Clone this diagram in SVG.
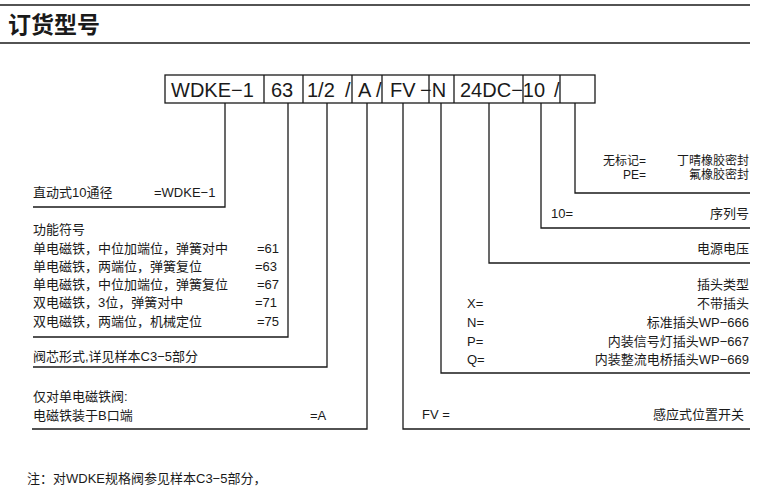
<svg xmlns="http://www.w3.org/2000/svg" width="768" height="496" viewBox="0 0 768 496">
<style>
text{font-family:"Liberation Sans","Noto Sans CJK SC",sans-serif;fill:#1a1a1a;font-size:13px}
.t{font-family:"Noto Sans CJK SC",sans-serif;font-size:23px;font-weight:700}
.b{font-size:20px}
.s{font-size:12px}
.r{text-anchor:end}
line,polyline,rect{stroke:#1a1a1a;stroke-width:1.3;fill:none}
</style>
<rect width="768" height="496" fill="#fff" style="stroke:none"/>
<g id="title">
<line x1="0" y1="5" x2="750" y2="5"/>
<line x1="0" y1="43" x2="750" y2="43"/>
<text class="t" x="8" y="33">订货型号</text>
</g>
<g id="code">
<rect x="165" y="75" width="430" height="28"/>
<line x1="264" y1="75" x2="264" y2="103"/>
<line x1="303" y1="75" x2="303" y2="103"/>
<line x1="352" y1="75" x2="352" y2="103"/>
<line x1="382" y1="75" x2="382" y2="103"/>
<line x1="429" y1="75" x2="429" y2="103"/>
<line x1="454" y1="75" x2="454" y2="103"/>
<line x1="523" y1="75" x2="523" y2="103"/>
<line x1="560" y1="75" x2="560" y2="103"/>
<text class="b" x="171" y="97">WDKE−1</text>
<text class="b" x="271" y="97">63</text>
<text class="b" x="307" y="97">1/2</text>
<text class="b" x="345" y="97">/</text>
<text class="b" x="358" y="97">A</text>
<text class="b" x="376" y="97">/</text>
<text class="b" x="390" y="97">FV</text>
<text class="b" x="420" y="97">−N</text>
<text class="b" x="460" y="97">24DC−10</text>
<text class="b" x="554" y="97">/</text>
</g>
<g id="connectors">
<polyline points="225,103 225,207 33,207"/>
<polyline points="288,103 288,337 33,337"/>
<polyline points="327,103 327,367 33,367"/>
<polyline points="367,103 367,429 32,429"/>
<polyline points="403,103 403,429 750,429"/>
<polyline points="441,103 441,373 750,373"/>
<polyline points="489,103 489,263 750,263"/>
<polyline points="541,103 541,228 750,228"/>
<polyline points="575,103 575,193 750,193"/>
</g>
<g id="size">
<text x="33" y="197">直动式10通径</text>
<text x="154" y="197">=WDKE−1</text>
</g>
<g id="function">
<text x="33" y="234">功能符号</text>
<text x="33" y="252.5">单电磁铁，中位加端位，弹簧对中</text>
<text x="33" y="270.5">单电磁铁，两端位，弹簧复位</text>
<text x="33" y="289">单电磁铁，中位加端位，弹簧复位</text>
<text x="33" y="307">双电磁铁，3位，弹簧对中</text>
<text x="33" y="325.5">双电磁铁，两端位，机械定位</text>
<text class="r" x="279" y="252.5">=61</text>
<text class="r" x="277" y="270.5">=63</text>
<text class="r" x="279" y="289">=67</text>
<text class="r" x="277" y="307">=71</text>
<text class="r" x="279" y="325.5">=75</text>
</g>
<g id="spool">
<text x="33" y="361">阀芯形式,详见样本C3−5部分</text>
</g>
<g id="solenoid">
<text x="33" y="401">仅对单电磁铁阀:</text>
<text x="33" y="420">电磁铁装于B口端</text>
<text x="310" y="420">=A</text>
</g>
<g id="fv">
<text x="422" y="419">FV =</text>
<text class="r" x="744" y="419">感应式位置开关</text>
</g>
<g id="plug">
<text class="r" x="749" y="288.5">插头类型</text>
<text x="467" y="308">X=</text>
<text x="467" y="327">N=</text>
<text x="467" y="345.5">P=</text>
<text x="467" y="364">Q=</text>
<text class="r" x="749" y="308">不带插头</text>
<text class="r" x="749" y="327">标准插头WP−666</text>
<text class="r" x="749" y="345.5">内装信号灯插头WP−667</text>
<text class="r" x="749" y="364">内装整流电桥插头WP−669</text>
</g>
<g id="voltage">
<text class="r" x="749" y="253">电源电压</text>
</g>
<g id="serial">
<text x="551" y="217.5">10=</text>
<text class="r" x="749" y="217.5">序列号</text>
</g>
<g id="seal">
<text class="r s" x="646" y="165">无标记=</text>
<text class="r s" x="646" y="179">PE=</text>
<text class="r s" x="749" y="165">丁晴橡胶密封</text>
<text class="r s" x="749" y="179">氟橡胶密封</text>
</g>
<g id="note">
<text x="27" y="483">注：对WDKE规格阀参见样本C3−5部分，</text>
</g>
</svg>
